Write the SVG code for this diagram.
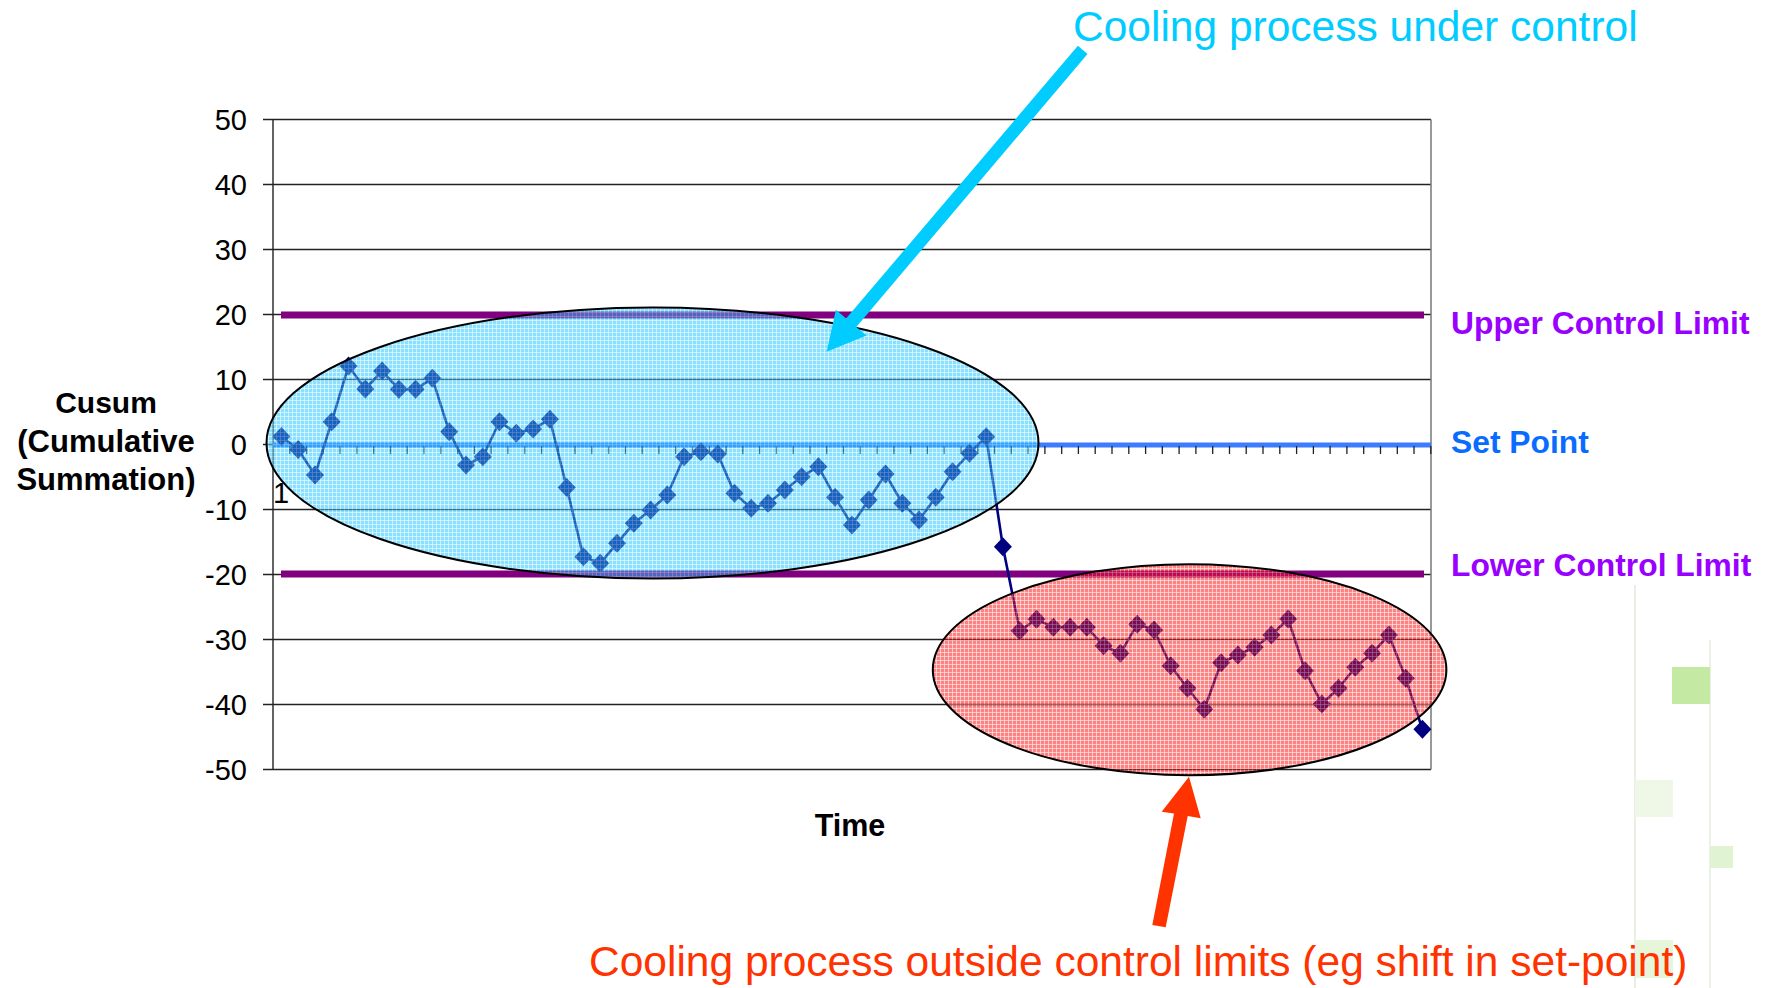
<svg xmlns="http://www.w3.org/2000/svg" width="1769" height="988" viewBox="0 0 1769 988">
<defs>
<style>
.grid{stroke:#222;stroke-width:1.4;fill:none}
.tick{stroke:#222;stroke-width:1.3}
.ylab{font-family:"Liberation Sans",Arial,sans-serif;font-size:29px;fill:#000;text-anchor:end}
.bold{font-family:"Liberation Sans",Arial,sans-serif;font-weight:bold}
.limit{stroke:#800080;stroke-width:7;fill:none}
.note{font-family:"Liberation Sans",Arial,sans-serif;font-size:42.5px}
</style>
<marker id="dia" markerUnits="userSpaceOnUse" markerWidth="20" markerHeight="20" refX="10" refY="10" viewBox="0 0 20 20" overflow="visible">
<path d="M10 0.5 L19 10 L10 19.5 L1 10 Z" fill="#000080"/>
</marker>
<pattern id="cyanHatch" patternUnits="userSpaceOnUse" width="4" height="4">
<rect width="4" height="4" fill="#1cc4ff"/>
<path d="M0 0.5H4M0.5 0V4" stroke="#ffffff" stroke-width="1" stroke-opacity="0.55"/>
</pattern>
<pattern id="redHatch" patternUnits="userSpaceOnUse" width="4" height="4">
<rect width="4" height="4" fill="#ff1010"/>
<path d="M0 0.5H4M0.5 0V4" stroke="#ffffff" stroke-width="1" stroke-opacity="0.55"/>
</pattern>
</defs>
<rect width="1769" height="988" fill="#fff"/>

<g id="artifacts">
<line x1="1635" y1="585" x2="1635" y2="988" stroke="#e4ead8" stroke-width="1.5"/>
<line x1="1710" y1="640" x2="1710" y2="988" stroke="#e6ecdc" stroke-width="1.5"/>
<rect x="1672" y="667" width="38" height="37" fill="#c4e9a2"/>
<rect x="1635" y="780" width="38" height="37" fill="#eff8e6"/>
<rect x="1710" y="846" width="23" height="22" fill="#e0f3d2"/>
<rect x="1635" y="940" width="38" height="38" fill="#e6f6da"/>
</g>

<g id="chart">
<g id="gridlines">
<line class="grid" x1="263" y1="119.5" x2="1431" y2="119.5"/>
<line class="grid" x1="263" y1="184.5" x2="1431" y2="184.5"/>
<line class="grid" x1="263" y1="249.5" x2="1431" y2="249.5"/>
<line class="grid" x1="263" y1="314.5" x2="1431" y2="314.5"/>
<line class="grid" x1="263" y1="379.5" x2="1431" y2="379.5"/>
<line class="grid" x1="263" y1="444.5" x2="1431" y2="444.5"/>
<line class="grid" x1="263" y1="509.5" x2="1431" y2="509.5"/>
<line class="grid" x1="263" y1="574.5" x2="1431" y2="574.5"/>
<line class="grid" x1="263" y1="639.5" x2="1431" y2="639.5"/>
<line class="grid" x1="263" y1="704.5" x2="1431" y2="704.5"/>
<line class="grid" x1="263" y1="769.5" x2="1431" y2="769.5" stroke-width="1.8"/>
<line class="grid" x1="273" y1="119.5" x2="273" y2="769.5" stroke-width="1.8"/>
<line x1="1431" y1="119.5" x2="1431" y2="769.5" stroke="#777" stroke-width="1.5"/>
</g>
<g id="y-labels">
<text class="ylab" x="247" y="130">50</text>
<text class="ylab" x="247" y="195">40</text>
<text class="ylab" x="247" y="260">30</text>
<text class="ylab" x="247" y="325">20</text>
<text class="ylab" x="247" y="390">10</text>
<text class="ylab" x="247" y="455">0</text>
<text class="ylab" x="247" y="520">-10</text>
<text class="ylab" x="247" y="585">-20</text>
<text class="ylab" x="247" y="650">-30</text>
<text class="ylab" x="247" y="715">-40</text>
<text class="ylab" x="247" y="780">-50</text>
</g>
<text x="281" y="503" style="font-family:'Liberation Sans',Arial,sans-serif;font-size:29px;text-anchor:middle" fill="#000">1</text>
<g id="limits">
<line class="limit" x1="281" y1="315" x2="1424" y2="315"/>
<line class="limit" x1="281" y1="574" x2="1424" y2="574"/>
<line x1="273" y1="445" x2="1431" y2="445" stroke="#3c7cff" stroke-width="5"/>
</g>
<path id="ticks" class="tick" d="M289.8 446v8M306.6 446v8M323.3 446v8M340.1 446v8M356.9 446v8M373.7 446v8M390.5 446v8M407.2 446v8M424 446v8M440.8 446v8M457.6 446v8M474.4 446v8M491.1 446v8M507.9 446v8M524.7 446v8M541.5 446v8M558.3 446v8M575 446v8M591.8 446v8M608.6 446v8M625.4 446v8M642.2 446v8M658.9 446v8M675.7 446v8M692.5 446v8M709.3 446v8M726.1 446v8M742.8 446v8M759.6 446v8M776.4 446v8M793.2 446v8M810 446v8M826.7 446v8M843.5 446v8M860.3 446v8M877.1 446v8M893.9 446v8M910.6 446v8M927.4 446v8M944.2 446v8M961 446v8M977.8 446v8M994.5 446v8M1011.3 446v8M1028.1 446v8M1044.9 446v8M1061.7 446v8M1078.4 446v8M1095.2 446v8M1112 446v8M1128.8 446v8M1145.6 446v8M1162.3 446v8M1179.1 446v8M1195.9 446v8M1212.7 446v8M1229.5 446v8M1246.2 446v8M1263 446v8M1279.8 446v8M1296.6 446v8M1313.4 446v8M1330.1 446v8M1346.9 446v8M1363.7 446v8M1380.5 446v8M1397.3 446v8M1414 446v8M1430.8 446v8"/>
<polyline id="series" fill="none" stroke="#000080" stroke-width="2.6" stroke-linejoin="round" marker-start="url(#dia)" marker-mid="url(#dia)" marker-end="url(#dia)" points="281.4,436.5 298.2,449.5 315,475 331.7,421.7 348.5,366 365.3,389 382.1,371 398.9,389.3 415.6,389.3 432.4,378.3 449.2,431.7 466,465 482.8,456.7 499.5,421.7 516.3,433.3 533.1,429 549.9,419.3 566.7,487.5 583.4,556.7 600.2,563.3 617,543.3 633.8,523.3 650.6,510 667.3,495 684.1,456.7 700.9,451.7 717.7,454 734.5,493.3 751.2,508.3 768,503.3 784.8,490 801.6,476.7 818.4,466.7 835.1,497.3 851.9,525 868.7,500 885.5,474 902.3,503.3 919,520 935.8,497.3 952.6,471.7 969.4,453.3 986.2,436.7 1002.9,546.7 1019.7,630.7 1036.5,619.3 1053.3,627.3 1070.1,627.3 1086.8,627.3 1103.6,645.7 1120.4,653.3 1137.2,624.3 1154,630 1170.7,665.7 1187.5,688.3 1204.3,709.3 1221.1,662.7 1237.9,655 1254.6,647.3 1271.4,635 1288.2,619 1305,670.7 1321.8,704 1338.5,688.3 1355.3,667.3 1372.1,653.3 1388.9,635 1405.7,678.3 1422.4,729.3"/>
<text class="bold" x="106" y="413" font-size="30" text-anchor="middle">Cusum</text>
<text class="bold" x="106" y="452" font-size="31" text-anchor="middle">(Cumulative</text>
<text class="bold" x="106" y="490" font-size="31" text-anchor="middle">Summation)</text>
<text class="bold" x="850" y="836" font-size="30.5" text-anchor="middle">Time</text>
</g>

<g id="ellipse-under-control">
<ellipse cx="652.5" cy="443" rx="386" ry="135.5" fill="url(#cyanHatch)" fill-opacity="0.52" stroke="#000" stroke-width="2"/>
</g>
<g id="ellipse-outside-limits">
<ellipse cx="1189.6" cy="669.7" rx="256.8" ry="105.5" fill="url(#redHatch)" fill-opacity="0.52" stroke="#000" stroke-width="2"/>
</g>

<g id="limit-labels">
<text class="bold" x="1451" y="334" font-size="31.8" fill="#9900ff">Upper Control Limit</text>
<text class="bold" x="1451" y="453" font-size="31.8" fill="#0a6cff">Set Point</text>
<text class="bold" x="1451" y="576" font-size="31.8" fill="#9900ff">Lower Control Limit</text>
</g>

<g id="label-under-control">
<text class="note" x="1073" y="41" fill="#00ccff">Cooling process under control</text>
</g>
<g id="label-outside-limits">
<text class="note" x="589" y="976" fill="#ff3300">Cooling process outside control limits (eg shift in set-point)</text>
</g>

<g id="connectors">
<polygon fill="#00ccff" points="826.7,351.7 866.5,335.6 856.3,327 1087.5,54 1077.9,45.8 846.1,318.5 835.9,309.8"/>
<polygon fill="#ff3300" points="1189,776.7 1200.7,818.3 1187.7,816 1165.7,927.3 1152.3,925 1174,813.5 1161.7,811.7"/>
</g>
</svg>
